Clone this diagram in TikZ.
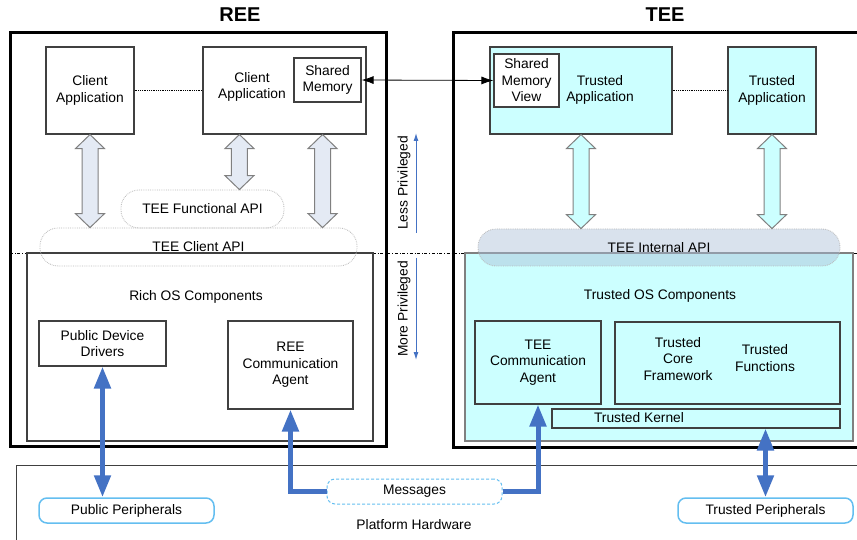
\documentclass[tikz,border=0pt]{standalone}
\usepackage{fontspec}
\setmainfont{Liberation Sans}
\usetikzlibrary{arrows.meta,calc}
\definecolor{teecyan}{RGB}{204,255,255}
\definecolor{apifill}{RGB}{170,190,215}
\definecolor{linkblue}{RGB}{68,114,196}
\definecolor{periblue}{RGB}{100,190,240}
\definecolor{boxgray}{RGB}{64,64,64}
\definecolor{arrowfill}{RGB}{228,234,244}
\tikzset{
	txt/.style={font=\fontsize{13.8}{16.5}\selectfont, align=center, inner sep=0pt},
	headtxt/.style={font=\fontsize{20}{24}\selectfont\bfseries},
	box/.style={txt, draw=boxgray, line width=1.1pt},
	tbox/.style={box, fill=teecyan},
	pill/.style={txt, draw=gray!55, densely dotted, line width=0.8pt, rounded corners=18pt},
	periph/.style={txt, draw=periblue, line width=1.5pt, rounded corners=8pt, minimum width=175pt, minimum height=25pt},
	outerbox/.style={draw=black, line width=3pt},
	blink/.style={draw=linkblue, line width=5pt, >={Triangle[length=22pt,width=16pt]}},
	thinlink/.style={draw=black, line width=0.8pt, >={Latex[length=12pt,width=8pt]}},
	privlink/.style={draw=linkblue, line width=1pt, >={Latex[length=8pt,width=5pt]}},
	fatgray/.style={draw=gray, fill=arrowfill, line width=1pt},
	fatcyan/.style={draw=gray, fill=teecyan, line width=1pt},
}
\newcommand{\fatarrow}[3]{%
	\draw[#3] let \p1=#1, \p2=#2 in
		(\x1,\y1) -- (\x1+14.5pt,\y1-14pt) -- (\x1+8pt,\y1-14pt) -- (\x1+8pt,\y2+14pt)
		-- (\x1+14.5pt,\y2+14pt) -- (\x1,\y2) -- (\x1-14.5pt,\y2+14pt) -- (\x1-8pt,\y2+14pt)
		-- (\x1-8pt,\y1-14pt) -- (\x1-14.5pt,\y1-14pt) -- cycle;}
\begin{document}
\begin{tikzpicture}[x=1pt,y=-1pt]
	\useasboundingbox (0,0) rectangle (857,540);
	\node[headtxt] (reehead) at (240,15) {REE};
	\node[headtxt] (teehead) at (665,15) {TEE};
	\draw[dash dot, line width=0.6pt] (10,253) -- (857,253);
	\draw[outerbox] (10,33) rectangle (386,446);
	\draw[outerbox] (453,33) rectangle (862,447);
	\node[box, minimum width=346pt, minimum height=188pt] (richos) at (200,347) {};
	\node[box, draw=gray, fill=teecyan, minimum width=388pt, minimum height=188pt] (trustos) at (659,347) {};
	\node[txt] (richtxt) at (196,297) {Rich OS Components};
	\node[txt] (trusttxt) at (660,296) {Trusted OS Components};
	\node[box, minimum width=88pt, minimum height=87pt] (ca1) at (90,90.5) {Client\\Application};
	\node[box, minimum width=163pt, minimum height=87pt] (ca2) at (284.5,90.5) {};
	\node[txt] (ca2txt) at (252,87) {Client\\Application};
	\node[box, minimum width=67pt, minimum height=44pt] (shm) at (327.5,80) {Shared\\Memory};
	\node[tbox, minimum width=182pt, minimum height=87pt] (ta1) at (581,90.5) {};
	\node[txt] (ta1txt) at (600,90) {Trusted\\Application};
	\node[box, fill=white, minimum width=65pt, minimum height=53pt] (smv) at (526.5,80.5) {Shared\\Memory\\View};
	\node[tbox, minimum width=88pt, minimum height=87pt] (ta2) at (772,90.5) {Trusted\\Application};
	\draw[densely dotted, line width=0.8pt] (ca1.east) -- (ca2.west);
	\draw[densely dotted, line width=0.8pt] (ta1.east) -- (ta2.west);
	\draw[thinlink,<->] (shm.east) -- (smv.west);
	\node[pill, minimum width=163pt, minimum height=38pt] (funcapi) at (202.5,209) {TEE Functional API};
	\node[pill, minimum width=317pt, minimum height=38pt] (clientapi) at (198.5,247) {TEE Client API};
	\node[pill, fill=apifill, fill opacity=0.45, text opacity=1, minimum width=362pt, minimum height=37pt] (intapi) at (659,247.5) {TEE Internal API};
	\coordinate (catop) at ($(ca2.south west)+(37,0)$);
	\coordinate (smtop) at ($(ca2.south east)+(-44,0)$);
	\fatarrow{(ca1.south)}{(ca1.south |- clientapi.north)}{fatgray}
	\fatarrow{(catop)}{(catop |- funcapi.north)}{fatgray}
	\fatarrow{(smtop)}{(smtop |- clientapi.north)}{fatgray}
	\fatarrow{(ta1.south)}{(ta1.south |- intapi.north)}{fatcyan}
	\fatarrow{(ta2.south)}{(ta2.south |- intapi.north)}{fatcyan}
	\node[box, minimum width=127pt, minimum height=45pt] (pdd) at (102.5,343.5) {Public Device\\Drivers};
	\node[box, minimum width=125pt, minimum height=88pt] (reeca) at (290.5,365) {REE\\Communication\\Agent};
	\node[tbox, minimum width=126pt, minimum height=83pt] (teeca) at (538,362.5) {TEE\\Communication\\Agent};
	\node[tbox, minimum width=225pt, minimum height=82pt] (tcf) at (727.5,363) {};
	\node[txt] (tcftxt) at (678,359) {Trusted\\Core\\Framework};
	\node[txt] (tfntxt) at (765,358) {Trusted\\Functions};
	\node[tbox, minimum width=288pt, minimum height=19pt] (tk) at (696,418.5) {};
	\node[txt] (tktxt) at (639,418) {Trusted Kernel};
	\coordinate (lesslo) at (416,233);
	\coordinate (lesshi) at (416,133);
	\draw[privlink,->] (lesslo) -- (lesshi);
	\node[txt, rotate=90] (lesstxt) at (404,183) {Less Privileged};
	\coordinate (morehi) at (416,258);
	\coordinate (morelo) at (416,360);
	\draw[privlink,->] (morehi) -- (morelo);
	\node[txt, rotate=90] (moretxt) at (404,309) {More Privileged};
	\draw[boxgray, line width=1pt] (857,465) -- (16,465) -- (16,540);
	\node[txt] (hw) at (414,525) {Platform Hardware};
	\node[periph] (pubper) at (126.5,510.5) {Public Peripherals};
	\node[periph] (trper) at (765.5,510.5) {Trusted Peripherals};
	\node[txt, draw=periblue, dash pattern=on 3pt off 2pt, line width=1pt, rounded corners=8pt, fill=white, minimum width=175pt, minimum height=25pt] (msg) at (414.5,491.5) {Messages};
	\draw[blink,<->] (pdd.south) -- (pdd.south |- pubper.north);
	\draw[blink,<->] (trper.north) -- (trper.north |- tk.south);
	\draw[blink,->] (msg.west) -| (reeca.south);
	\draw[blink,->] (msg.east) -| (teeca.south);
\end{tikzpicture}
\end{document}
